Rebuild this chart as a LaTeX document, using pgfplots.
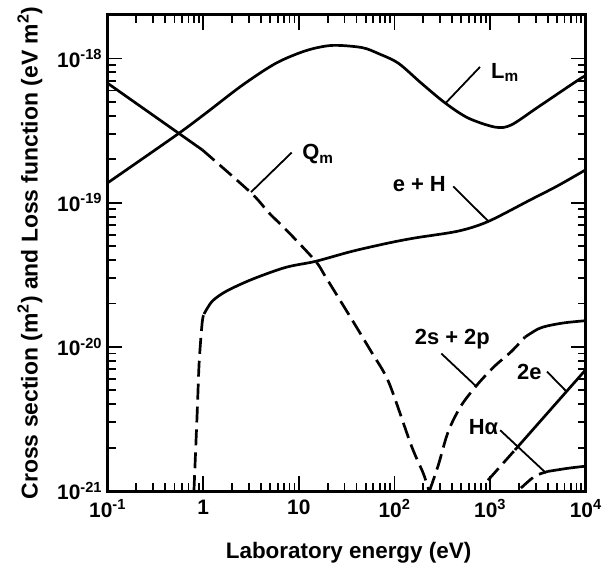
\documentclass[border=0pt]{standalone}
\usepackage{pgfplots}
\pgfplotsset{compat=1.18}
\usepackage{fontspec}
\setmainfont{Liberation Sans}
\tikzset{
  crv/.style={black, line width=2.7pt, line join=round},
  dsh/.style={crv, dash pattern=on 16pt off 7pt},
  con/.style={black, line width=1.8pt},
  lab/.style={font=\fontsize{22}{22}\selectfont\bfseries, inner sep=0pt},
}
\begin{document}
\begin{tikzpicture}
\begin{axis}[
  at={(0,0)}, anchor=south west,
  scale only axis, width=480pt, height=478pt,
  xmode=log, ymode=log,
  xmin=0.1, xmax=10000, ymin=1e-21, ymax=2e-18,
  xtick={0.1,1,10,100,1000,10000},
  xticklabels={10\textsuperscript{-1},1,10,10\textsuperscript{2},10\textsuperscript{3},10\textsuperscript{4}},
  ytick={1e-21,1e-20,1e-19,1e-18},
  yticklabels={10\textsuperscript{-21},10\textsuperscript{-20},10\textsuperscript{-19},10\textsuperscript{-18}},
  tick align=inside,
  major tick length=15pt, minor tick length=8pt,
  major tick style={black, line width=1.8pt},
  minor tick style={black, line width=1.8pt},
  axis line style={line width=3pt},
  ticklabel style={font=\fontsize{21}{21}\selectfont\bfseries},
  xticklabel style={yshift=-5pt},
  yticklabel style={xshift=-2pt},
  xlabel={Laboratory energy (eV)},
  ylabel={Cross section (m\textsuperscript{2}) and Loss function (eV m\textsuperscript{2})},
  every axis x label/.style={at={(axis description cs:0.504,-0.13)},anchor=center,
    font=\fontsize{22.5}{22.5}\selectfont\bfseries},
  every axis y label/.style={at={(axis description cs:-0.1625,0.5)},rotate=90,anchor=center,
    font=\fontsize{23}{23}\selectfont\bfseries},
]
% L_m
\addplot[crv, smooth, tension=0.5] coordinates {
(0.1,1.37e-19) (0.524,2.94e-19) (1.07,4.18e-19) (2.55,6.5e-19) (5.75,9.25e-19)
(11.8,1.13e-18) (22.1,1.23e-18) (45.3,1.19e-18) (68,1.08e-18) (110,9.25e-19)
(191,6.73e-19) (340,4.9e-19) (590,3.86e-19) (1127,3.34e-19) (1655,3.45e-19)
(3162,4.59e-19) (8254,7.05e-19) (10000,7.6e-19)};
% Q_m solid
\addplot[crv] coordinates {(0.1,6.73e-19) (0.98,2.32e-19)};
% Q_m dashed
\addplot[dsh, smooth, tension=0.5] coordinates {
(0.98,2.32e-19) (3.16,1.17e-19) (4.87,8.5e-20) (7.87,6.2e-20) (15,3.92e-20)
(19.1,3.05e-20) (35.6,1.56e-20) (57.5,9.2e-21) (87,5.7e-21) (150,2.07e-21)
(200,1.33e-21) (230,1e-21)};
% e + H dashed
\addplot[dsh, smooth, tension=0.5] coordinates {
(0.80,1e-21) (0.866,3.56e-21) (0.908,7.9e-21) (0.977,1.49e-20) (1.02,1.69e-20)};
% e + H solid
\addplot[crv, smooth, tension=0.5] coordinates {
(1.02,1.69e-20) (1.24,2.07e-20) (1.74,2.43e-20) (3.24,2.94e-20) (7.3,3.56e-20)
(15,3.92e-20) (35.6,4.59e-20) (86.6,5.25e-20) (166,5.7e-20) (464,6.35e-20)
(953,7.4e-20) (2670,1.05e-19) (5105,1.31e-19) (10000,1.69e-19)};
% 2s + 2p dashed
\addplot[dsh, smooth, tension=0.5] coordinates {
(232,1e-21) (287,1.51e-21) (365,2.59e-21) (499,3.92e-21) (750,5.56e-21)
(1127,7.4e-21) (1655,9.24e-21) (2317,1.17e-20)};
% 2s + 2p solid
\addplot[crv, smooth, tension=0.5] coordinates {
(2317,1.17e-20) (3162,1.33e-20) (4017,1.40e-20) (6040,1.47e-20) (10000,1.52e-20)};
% 2e dashed
\addplot[dsh] coordinates {(950,1.19e-21) (1820,1.93e-21)};
% 2e solid
\addplot[crv] coordinates {(1820,1.93e-21) (10000,6.95e-21)};
% H alpha dashed
\addplot[dsh, smooth, tension=0.5] coordinates {
(2100,1.05e-21) (2943,1.27e-21) (4017,1.37e-21)};
% H alpha solid
\addplot[crv, smooth, tension=0.5] coordinates {
(4017,1.37e-21) (6494,1.44e-21) (10000,1.49e-21)};
% labels and leaders
\draw[con] (rel axis cs:0.706,0.814) -- (rel axis cs:0.779,0.891);
\node[lab] at (rel axis cs:0.831,0.879) {L\textsubscript{m}};
\draw[con] (rel axis cs:0.300,0.628) -- (rel axis cs:0.385,0.711);
\node[lab] at (rel axis cs:0.440,0.707) {Q\textsubscript{m}};
\draw[con] (rel axis cs:0.723,0.640) -- (rel axis cs:0.796,0.567);
\node[lab] at (rel axis cs:0.652,0.644) {e + H};
\draw[con] (rel axis cs:0.698,0.289) -- (rel axis cs:0.771,0.220);
\node[lab] at (rel axis cs:0.721,0.320) {2s + 2p};
\draw[con] (rel axis cs:0.919,0.251) -- (rel axis cs:0.958,0.211);
\node[lab] at (rel axis cs:0.882,0.251) {2e};
\draw[con] (rel axis cs:0.821,0.128) -- (rel axis cs:0.917,0.038);
\node[lab] at (rel axis cs:0.786,0.134) {Hα};
\end{axis}
\path (-108pt,-76pt) rectangle (497pt,493pt);
\end{tikzpicture}
\end{document}
